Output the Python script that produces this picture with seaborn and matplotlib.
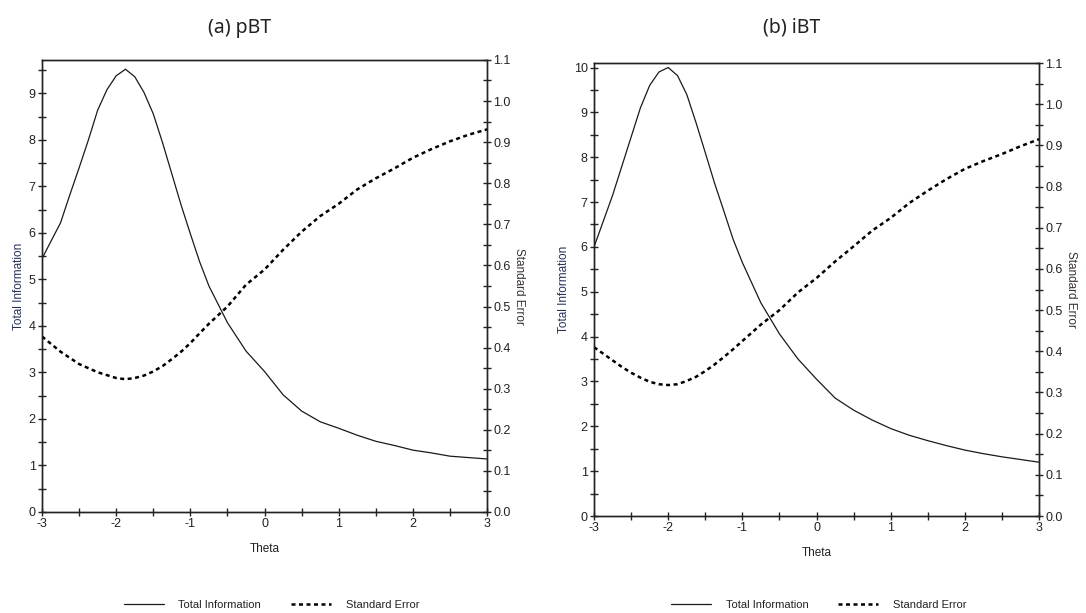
import numpy as np
import pandas as pd
import matplotlib
matplotlib.use("Agg")
import matplotlib.pyplot as plt
import seaborn as sns
from matplotlib.ticker import MultipleLocator, FormatStrFormatter, FixedLocator, FixedFormatter

# ---------------- data ----------------
theta = [-3.0, -2.75, -2.625, -2.5, -2.375, -2.25, -2.125, -2.0, -1.875, -1.75,
         -1.625, -1.5, -1.375, -1.25, -1.125, -1.0, -0.875, -0.75, -0.5, -0.25,
         0.0, 0.25, 0.5, 0.75, 1.0, 1.25, 1.5, 1.75, 2.0, 2.25, 2.5, 2.75, 3.0]

pbt_info = [5.45, 6.22, 6.82, 7.40, 8.00, 8.64, 9.08, 9.38, 9.52, 9.36,
            9.02, 8.56, 7.94, 7.27, 6.60, 5.98, 5.38, 4.86, 4.07, 3.46,
            3.02, 2.52, 2.17, 1.94, 1.80, 1.65, 1.52, 1.43, 1.33, 1.27, 1.20, 1.17, 1.14]
pbt_se = [0.427, 0.390, 0.375, 0.360, 0.350, 0.340, 0.333, 0.326, 0.323, 0.326,
          0.332, 0.342, 0.355, 0.372, 0.390, 0.411, 0.435, 0.458, 0.500, 0.553,
          0.590, 0.638, 0.682, 0.720, 0.750, 0.785, 0.812, 0.836, 0.862, 0.883,
          0.902, 0.918, 0.931]

ibt_info = [6.00, 7.15, 7.80, 8.45, 9.10, 9.60, 9.90, 10.00, 9.82, 9.40,
            8.77, 8.10, 7.42, 6.80, 6.17, 5.65, 5.20, 4.75, 4.06, 3.50,
            3.05, 2.63, 2.36, 2.14, 1.95, 1.80, 1.68, 1.57, 1.47, 1.39, 1.32, 1.26, 1.20]
ibt_se = [0.410, 0.378, 0.362, 0.348, 0.336, 0.326, 0.320, 0.318, 0.320, 0.328,
          0.338, 0.352, 0.368, 0.386, 0.405, 0.425, 0.445, 0.465, 0.500, 0.543,
          0.578, 0.618, 0.655, 0.693, 0.724, 0.760, 0.790, 0.818, 0.843, 0.862,
          0.879, 0.898, 0.915]

panel_titles = ["(a) pBT", "(b) iBT"]
x_ticks = [-3, -2, -1, 0, 1, 2, 3]
x_tick_labels = ["-3", "-2", "-1", "0", "1", "2", "3"]
info_label = "Total Information"
se_label = "Standard Error"
x_label = "Theta"

# ---------------- style ----------------
sns.set_theme(style="ticks")
plt.rcParams["font.family"] = ["Liberation Sans", "DejaVu Sans"]
plt.rcParams["axes.unicode_minus"] = False

fig = plt.figure(figsize=(10.86, 6.13), dpi=100)
fig.patch.set_facecolor("white")

panels = [
    dict(pos=[0.0387, 0.1648, 0.4098, 0.7374], info=pbt_info, se=pbt_se,
         ymax=9.72, title=panel_titles[0], tx=0.221, lx=0.250),
    dict(pos=[0.5470, 0.1582, 0.4098, 0.7390], info=ibt_info, se=ibt_se,
         ymax=10.1, title=panel_titles[1], tx=0.729, lx=0.754),
]

tick_kw = dict(direction="inout", length=6, width=1.0, colors="#222222",
               labelsize=9, pad=1.5, labelcolor="#222222")

for p in panels:
    ax = fig.add_axes(p["pos"])
    ax2 = ax.twinx()
    df = pd.DataFrame({"theta": theta, "info": p["info"], "se": p["se"]})

    sns.lineplot(data=df, x="theta", y="info", ax=ax, color="#1a1a1a",
                 linewidth=0.9, label=info_label, legend=False)
    sns.lineplot(data=df, x="theta", y="se", ax=ax2, color="black",
                 linewidth=1.8, label=se_label, legend=False,
                 dashes=False)
    ax2.lines[0].set_dashes((1.6, 1.4))

    ax.set_xlim(-3, 3)
    ax.set_ylim(0, p["ymax"])
    ax2.set_ylim(0, 1.1)

    ax.xaxis.set_major_locator(FixedLocator(x_ticks))
    ax.xaxis.set_major_formatter(FixedFormatter(x_tick_labels))
    ax.xaxis.set_minor_locator(MultipleLocator(0.5))
    ax.yaxis.set_major_locator(MultipleLocator(1))
    ax.yaxis.set_minor_locator(MultipleLocator(0.5))
    ax2.yaxis.set_major_locator(MultipleLocator(0.1))
    ax2.yaxis.set_minor_locator(MultipleLocator(0.05))
    ax2.yaxis.set_major_formatter(FormatStrFormatter("%.1f"))

    for a in (ax, ax2):
        a.tick_params(which="both", **tick_kw)
        a.tick_params(which="minor", length=6)
        for s in a.spines.values():
            s.set_linewidth(1.0)
            s.set_color("#222222")
        a.set_facecolor("none")

    ax.set_xlabel(x_label, fontsize=8.5, color="#222222", labelpad=9)
    ax.set_ylabel(info_label, fontsize=8.5, color="#26305a", labelpad=3)
    ax2.set_ylabel(se_label, fontsize=8.5, color="#3a3030", rotation=270,
                   labelpad=10)

    fig.text(p["tx"], 0.955, p["title"], ha="center", va="center",
             fontsize=14, family=["Noto Sans", "DejaVu Sans"], color="#222222")

    handles = [ax.lines[0], ax2.lines[0]]
    leg = ax.legend(handles=handles, labels=[info_label, se_label],
                    loc="center", bbox_to_anchor=(p["lx"], 1 - 605 / 613),
                    bbox_transform=fig.transFigure, ncol=2, frameon=False,
                    fontsize=8, handlelength=3.6, handletextpad=1.3,
                    columnspacing=2.7)
    for t in leg.get_texts():
        t.set_color("#222222")

fig.savefig("out.png", dpi=100, facecolor="white")
